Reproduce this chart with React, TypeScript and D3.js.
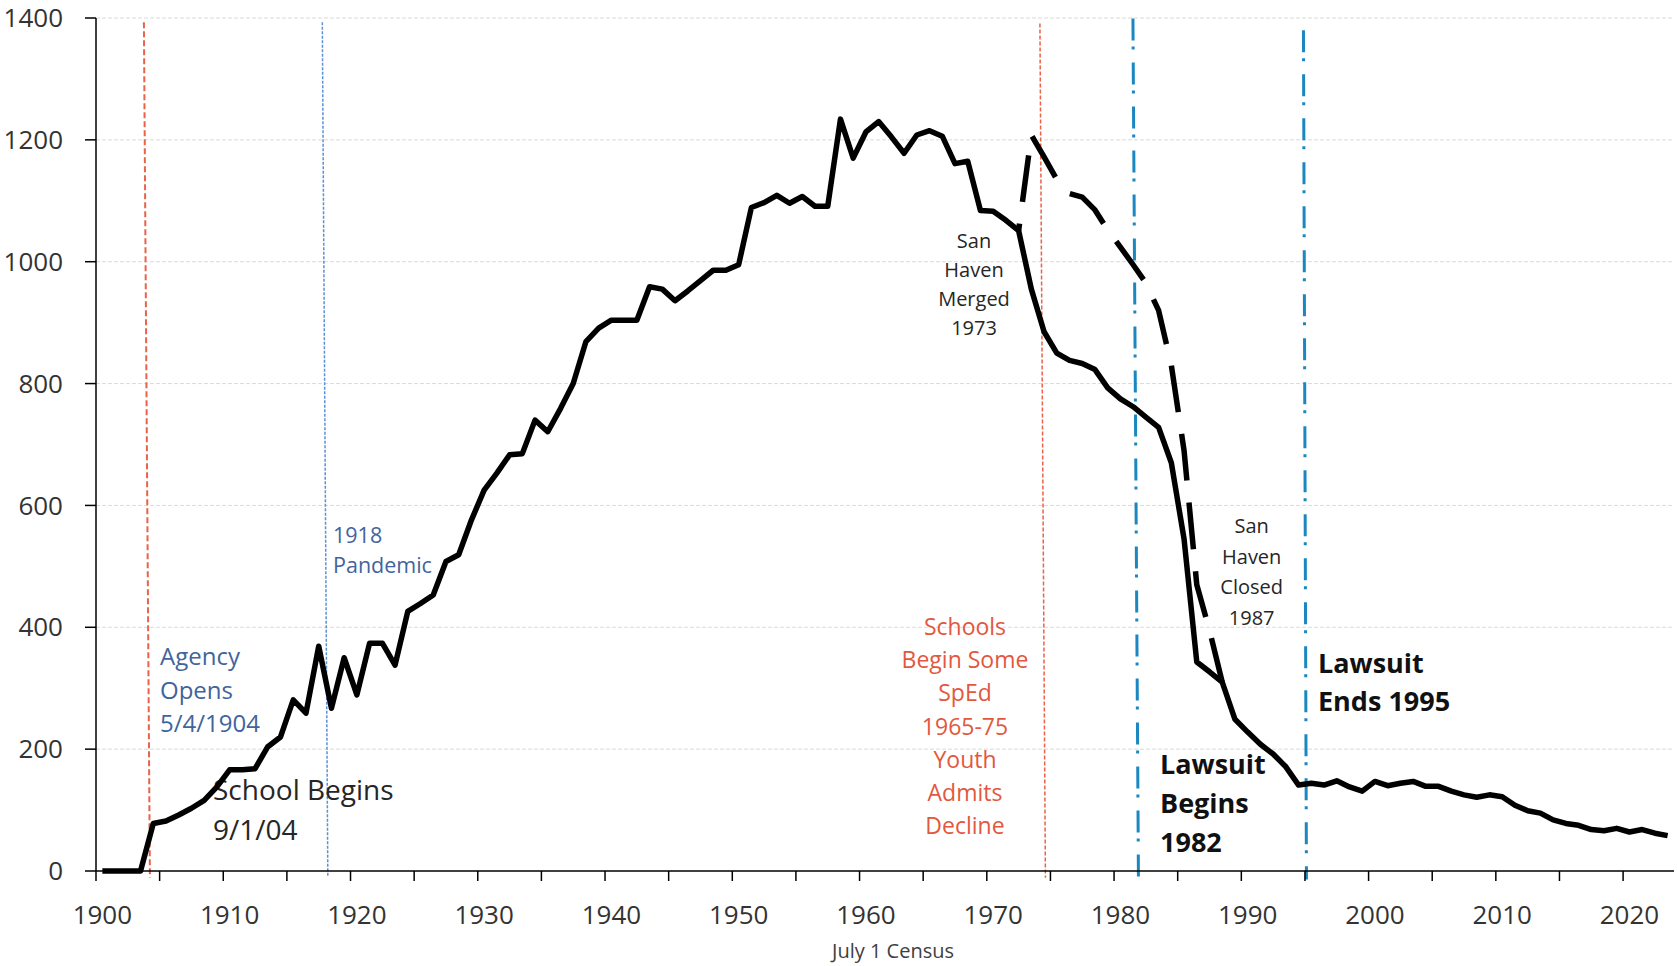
import React from 'react';
import * as d3 from 'd3';

// ---------- data ----------
const FIRST_YEAR = 1900;
const censusValues = [
  0, 0, 0, 0, 78, 82, 92, 103, 116, 138, // 1900-1909
  166, 166, 168, 204, 220, 281, 259, 369, 267, 350, // 1910-1919
  289, 374, 374, 338, 426, 439, 453, 508, 519, 576, // 1920-1929
  625, 653, 683, 685, 740, 721, 759, 800, 869, 891, // 1930-1939
  904, 904, 904, 959, 955, 936, 952, 969, 986, 986, // 1940-1949
  995, 1089, 1097, 1109, 1096, 1107, 1091, 1091, 1234, 1170, // 1950-1959
  1213, 1230, 1205, 1178, 1208, 1215, 1206, 1161, 1165, 1084, // 1960-1969
  1083, 1068, 1051, 955, 885, 850, 838, 833, 823, 793, // 1970-1979
  775, 762, 745, 728, 670, 545, 343, 327, 310, 249, // 1980-1989
  228, 208, 192, 171, 141, 144, 141, 148, 138, 131, // 1990-1999
  147, 140, 144, 147, 139, 139, 131, 125, 121, 125, // 2000-2009
  122, 108, 99, 95, 84, 78, 75, 68, 66, 70, // 2010-2019
  64, 68, 62, 58, // 2020-2023
];

const DASHED_FIRST_YEAR = 1972;
const withSanHavenValues = [1051, 1208, 1172, 1135, 1112, 1106, 1085, 1052, 1024, 995, 965, 920, 830, 690, 470, 395, 310];

const yTicks = [0, 200, 400, 600, 800, 1000, 1200, 1400];
const xLabelYears = [1900, 1910, 1920, 1930, 1940, 1950, 1960, 1970, 1980, 1990, 2000, 2010, 2020];
const xTickYears = [1900, 1905, 1910, 1915, 1920, 1925, 1930, 1935, 1940, 1945, 1950, 1955, 1960, 1965, 1970, 1975, 1980, 1985, 1990, 1995, 2000, 2005, 2010, 2015, 2020];

// event marker years
const eventYears = [1904.0, 1918.0, 1974.39, 1981.7, 1995.0];

// ---------- layout ----------
const W = 1677;
const H = 966;
const LEFT = 96;
const RIGHT = 1674;
const TOP = 18;
const BOTTOM = 871;
const FONT = "'Segoe UI', 'Open Sans', sans-serif";

const x = d3.scaleLinear().domain([1900, 2024]).range([LEFT, RIGHT]);
const y = d3.scaleLinear().domain([0, 1400]).range([BOTTOM, TOP]);

type Pt = { year: number; v: number };
const solid: Pt[] = censusValues.map((v, i) => ({ year: FIRST_YEAR + i, v }));
const dashed: Pt[] = withSanHavenValues.map((v, i) => ({ year: DASHED_FIRST_YEAR + i, v }));

const line = d3
  .line<Pt>()
  .x((d) => x(d.year + 0.5))
  .y((d) => y(d.v));

const eventStyles = [
  { stroke: '#e8634a', width: 2, dash: '6 3', top: 1393, bottom: -11, tilt: 6 },
  { stroke: '#5b8fd6', width: 1.5, dash: '3 1.5', top: 1393, bottom: -8, tilt: 5.5 },
  { stroke: '#e8634a', width: 1.5, dash: '4 2', top: 1391, bottom: -11, tilt: 5.5 },
  { stroke: '#1b87c0', width: 3, dash: '22 6 3 13', top: 1399, bottom: -14, tilt: 5.5 },
  { stroke: '#1b87c0', width: 3, dash: '22 6 3 13', top: 1380, bottom: -14, tilt: 3 },
];

function MultiText(props: {
  lines: string[];
  x: number;
  y: number;
  size: number;
  gap: number;
  fill: string;
  anchor?: string;
  weight?: string;
}) {
  const { lines, size, gap, fill, anchor = 'start', weight = 'normal' } = props;
  return (
    <text
      x={props.x}
      y={props.y}
      fontSize={size}
      fill={fill}
      textAnchor={anchor}
      fontWeight={weight}
      fontFamily={FONT}
    >
      {lines.map((l, i) => (
        <tspan key={i} x={props.x} dy={i === 0 ? 0 : gap}>
          {l}
        </tspan>
      ))}
    </text>
  );
}

export default function App() {
  return (
    <div style={{ position: 'absolute', left: 0, top: 0, background: '#fff' }}>
      <svg width={W} height={H} viewBox={`0 0 ${W} ${H}`} style={{ display: 'block' }}>
        <rect width={W} height={H} fill="#fff" />
        {/* gridlines */}
        {yTicks
          .filter((t) => t > 0)
          .map((t) => (
            <line key={t} x1={LEFT} x2={RIGHT} y1={y(t)} y2={y(t)} stroke="#dadada" strokeWidth={1} strokeDasharray="4 2" />
          ))}

        {/* event markers */}
        {eventYears.map((yr, i) => {
          const s = eventStyles[i];
          const cx = x(yr);
          return (
            <line
              key={i}
              x1={cx - s.tilt / 2}
              y1={y(s.top)}
              x2={cx + s.tilt / 2}
              y2={y(s.bottom)}
              stroke={s.stroke}
              strokeWidth={s.width}
              strokeDasharray={s.dash}
            />
          );
        })}

        {/* annotations */}
        <MultiText lines={['Agency', 'Opens', '5/4/1904']} x={160} y={665} size={24} gap={33.7} fill="#41649c" />
        <MultiText lines={['1918', 'Pandemic']} x={333} y={542.7} size={21.5} gap={30.6} fill="#41649c" />
        <MultiText lines={['School Begins', '9/1/04']} x={213} y={800} size={28} gap={40} fill="#262626" />
        <MultiText lines={['San', 'Haven', 'Merged', '1973']} x={974} y={248.3} size={20} gap={29} fill="#262626" anchor="middle" />
        <MultiText lines={['San', 'Haven', 'Closed', '1987']} x={1251.7} y={533.3} size={20} gap={30.5} fill="#262626" anchor="middle" />
        <MultiText
          lines={['Schools', 'Begin Some', 'SpEd', '1965-75', 'Youth', 'Admits', 'Decline']}
          x={965}
          y={635}
          size={23}
          gap={33.2}
          fill="#e2583e"
          anchor="middle"
        />
        <MultiText lines={['Lawsuit', 'Begins', '1982']} x={1160} y={774} size={27} gap={38.8} fill="#111" weight="bold" />
        <MultiText lines={['Lawsuit', 'Ends 1995']} x={1318} y={672.7} size={27} gap={38} fill="#111" weight="bold" />

        {/* axes */}
        <line x1={LEFT} x2={LEFT} y1={TOP} y2={BOTTOM} stroke="#000" strokeWidth={1.5} />
        <line x1={LEFT} x2={RIGHT} y1={BOTTOM} y2={BOTTOM} stroke="#000" strokeWidth={1.5} />
        {yTicks.map((t) => (
          <g key={t}>
            <line x1={LEFT - 11} x2={LEFT} y1={y(t)} y2={y(t)} stroke="#000" strokeWidth={1.5} />
            <text x={63} y={y(t)} dy="0.35em" textAnchor="end" fontSize={26} fill="#333" fontFamily={FONT}>
              {t}
            </text>
          </g>
        ))}
        {xTickYears.map((t) => (
          <line key={t} x1={x(t)} x2={x(t)} y1={BOTTOM} y2={BOTTOM + 10} stroke="#000" strokeWidth={1.5} />
        ))}
        {xLabelYears.map((t) => (
          <text key={t} x={x(t + 0.5)} y={924} textAnchor="middle" fontSize={26} fill="#333" fontFamily={FONT}>
            {t}
          </text>
        ))}
        <text x={893} y={958} textAnchor="middle" fontSize={20} fill="#404040" fontFamily={FONT}>
          July 1 Census
        </text>

        {/* data lines */}
        <path
          d={line(dashed) || ''}
          fill="none"
          stroke="#000"
          strokeWidth={5.5}
          strokeDasharray="47 22"
          strokeDashoffset={40}
        />
        <path d={line(solid) || ''} fill="none" stroke="#000" strokeWidth={5.5} strokeLinejoin="round" />
      </svg>
    </div>
  );
}
